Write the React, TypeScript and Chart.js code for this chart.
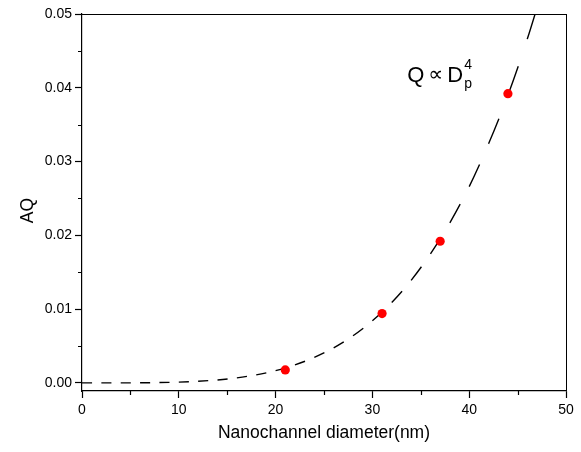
import React, { useEffect, useRef } from 'react';
import { Chart, registerables } from 'chart.js';

Chart.register(...registerables);

// Measured points (red dots)
const measuredDiameters = [21, 31, 37, 44];
const measuredAQ = [0.00176, 0.0094, 0.0192, 0.0392];

// Dashed fit curve (Q ∝ Dp^4), every 2 nm
const fitDiameters = [0, 2, 4, 6, 8, 10, 12, 14, 16, 18, 20, 22, 24, 26, 28, 30, 32, 34, 36, 38, 40, 42, 44, 46, 48];
const fitAQ = [0, 0.0000002, 0.0000027, 0.0000135, 0.0000426, 0.000104, 0.000216, 0.0004, 0.000682, 0.00109, 0.00166, 0.00244, 0.00345, 0.00475, 0.00639, 0.00842, 0.0109, 0.0139, 0.0175, 0.0217, 0.0266, 0.0324, 0.039, 0.0466, 0.0552];

const xTickValues = [0, 10, 20, 30, 40, 50];
const xMinorTickValues = [5, 15, 25, 35, 45];
const yTickValues = [0, 0.01, 0.02, 0.03, 0.04, 0.05];
const yMinorTickValues = [0.005, 0.015, 0.025, 0.035, 0.045];

const xTitle = 'Nanochannel diameter(nm)';
const yTitle = 'AQ';

const FONT = '"Liberation Sans", Arial, "DejaVu Sans", sans-serif';

const framePlugin = {
  id: 'frameAndNotes',
  afterDraw(chart: any) {
    const { ctx, chartArea } = chart;
    const xs = chart.scales.x;
    const ys = chart.scales.y;
    ctx.save();
    ctx.strokeStyle = '#000';
    ctx.lineWidth = 1;
    // top and right frame lines
    ctx.beginPath();
    ctx.moveTo(chartArea.left, chartArea.top + 0.5);
    ctx.lineTo(chartArea.right, chartArea.top + 0.5);
    ctx.moveTo(chartArea.right + 0.5, chartArea.top);
    ctx.lineTo(chartArea.right + 0.5, chartArea.bottom);
    ctx.stroke();
    // minor ticks
    ctx.lineWidth = 1.2;
    ctx.beginPath();
    xMinorTickValues.forEach((v) => {
      const px = Math.round(xs.getPixelForValue(v)) + 0.5;
      ctx.moveTo(px, chartArea.bottom);
      ctx.lineTo(px, chartArea.bottom + 4);
    });
    yMinorTickValues.forEach((v) => {
      const py = Math.round(ys.getPixelForValue(v)) + 0.5;
      ctx.moveTo(chartArea.left, py);
      ctx.lineTo(chartArea.left - 4, py);
    });
    ctx.stroke();

    // y axis title
    ctx.fillStyle = '#000';
    ctx.save();
    ctx.translate(33, (chartArea.top + chartArea.bottom) / 2 + 8);
    ctx.rotate(-Math.PI / 2);
    ctx.font = `17.5px ${FONT}`;
    ctx.textAlign = 'center';
    ctx.textBaseline = 'alphabetic';
    ctx.fillText(yTitle, 0, 0);
    ctx.restore();

    // annotation Q ∝ Dp^4
    ctx.textBaseline = 'alphabetic';
    ctx.textAlign = 'left';
    const x0 = xs.getPixelForValue(33.6);
    const base = ys.getPixelForValue(0.0408);
    ctx.font = `22px ${FONT}`;
    ctx.fillText('Q', x0, base);
    let x = x0 + ctx.measureText('Q').width + 4;
    ctx.font = `21px "DejaVu Sans", ${FONT}`;
    ctx.fillText('\u221D', x, base - 1);
    x += ctx.measureText('\u221D').width + 4;
    ctx.font = `22px ${FONT}`;
    ctx.fillText('D', x, base);
    x += ctx.measureText('D').width + 1;
    ctx.font = `14px ${FONT}`;
    ctx.fillText('4', x, base - 13);
    ctx.fillText('p', x, base + 6);
    ctx.restore();
  },
};

export default function App() {
  const ref = useRef<HTMLCanvasElement | null>(null);

  useEffect(() => {
    if (!ref.current) return;
    const chart = new Chart(ref.current, {
      type: 'scatter',
      data: {
        datasets: [
          {
            label: 'Measured',
            data: measuredDiameters.map((d, i) => ({ x: d, y: measuredAQ[i] })),
            backgroundColor: '#ff0000',
            borderColor: '#ff0000',
            pointRadius: 4.6,
            pointBorderWidth: 0,
            showLine: false,
            order: 0,
          },
          {
            label: 'Fit',
            data: fitDiameters.map((d, i) => ({ x: d, y: fitAQ[i] })),
            showLine: true,
            borderColor: '#000',
            borderWidth: 1.4,
            pointRadius: 0,
            cubicInterpolationMode: 'monotone',
            segment: {
              borderDash: (c: any) => {
                const L = Math.hypot(c.p1.x - c.p0.x, c.p1.y - c.p0.y);
                return [L * 0.52, L * 0.48];
              },
            },
            order: 1,
          } as any,
        ],
      },
      options: {
        animation: false,
        responsive: true,
        maintainAspectRatio: false,
        layout: { padding: { left: 0, right: 15, top: 14, bottom: 0 } },
        plugins: {
          legend: { display: false },
          tooltip: { enabled: false },
        },
        scales: {
          x: {
            type: 'linear',
            min: 0,
            max: 50,
            afterBuildTicks: (s: any) => {
              s.ticks = xTickValues.map((v) => ({ value: v }));
            },
            afterFit: (s: any) => {
              s.height = 61;
            },
            grid: {
              drawOnChartArea: false,
              drawTicks: true,
              tickLength: 7,
              tickWidth: 1.2,
              tickColor: '#000',
            },
            border: { display: true, color: '#000', width: 1.2 },
            ticks: {
              color: '#000',
              padding: 4,
              font: { family: FONT, size: 14 },
              maxRotation: 0,
              callback: (v: any) => String(v),
            },
            title: {
              display: true,
              text: xTitle,
              color: '#000',
              font: { family: FONT, size: 17.5 },
              padding: { top: 0, bottom: 8 },
            },
          },
          y: {
            type: 'linear',
            min: -0.0011,
            max: 0.05,
            afterBuildTicks: (s: any) => {
              s.ticks = yTickValues.map((v) => ({ value: v }));
            },
            afterFit: (s: any) => {
              s.width = 82;
            },
            grid: {
              drawOnChartArea: false,
              drawTicks: true,
              tickLength: 7,
              tickWidth: 1.2,
              tickColor: '#000',
            },
            border: { display: true, color: '#000', width: 1.2 },
            ticks: {
              color: '#000',
              padding: 3,
              font: { family: FONT, size: 14 },
              callback: (v: any) => Number(v).toFixed(2),
            },
            title: { display: false },
          },
        },
      },
      plugins: [framePlugin],
    });
    return () => chart.destroy();
  }, []);

  return (
    <div style={{ position: 'absolute', left: 0, top: 0, width: 581, height: 452, background: '#fff' }}>
      <canvas ref={ref} />
    </div>
  );
}
